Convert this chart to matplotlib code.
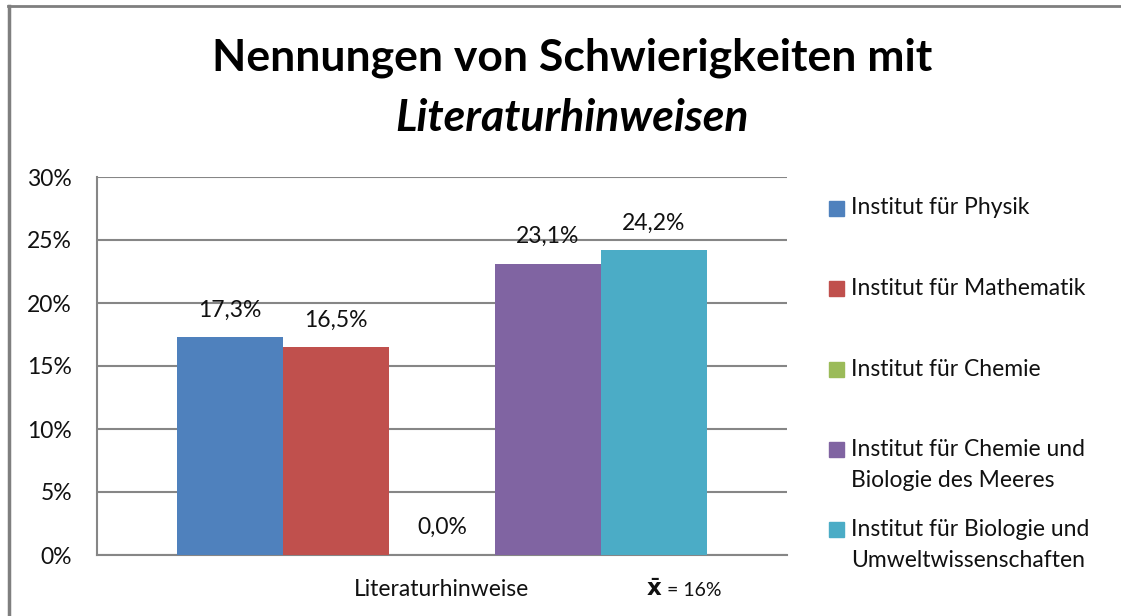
import matplotlib.pyplot as plt
from matplotlib.patches import Rectangle
from matplotlib.lines import Line2D

plt.rcParams['font.family'] = ['Lato', 'DejaVu Sans']

# Chart data
category = 'Literaturhinweise'
institutes = [
    'Institut für Physik',
    'Institut für Mathematik',
    'Institut für Chemie',
    'Institut für Chemie und\nBiologie des Meeres',
    'Institut für Biologie und\nUmweltwissenschaften',
]
values = [17.3, 16.5, 0.0, 23.1, 24.2]
colors = ['#4F81BD', '#C0504D', '#9BBB59', '#8064A2', '#4BACC6']
mean_label = '= 16%'
yticks = [0, 5, 10, 15, 20, 25, 30]

FS = 16.5
W, H = 1121, 616
fig = plt.figure(figsize=(W / 100, H / 100), dpi=100)

# plot area in pixels: x 97..787, y 177..555
ax = fig.add_axes([97 / W, 1 - 555 / H, (787 - 97) / W, (555 - 177) / H])

bar_w = 0.1536
for i, (v, c) in enumerate(zip(values, colors)):
    xpos = (i - 2) * bar_w
    ax.bar(xpos, v, width=bar_w, color=c, zorder=3)
    ax.annotate(f'{v:.1f}%'.replace('.', ','), (xpos, v), xytext=(0, 12),
                textcoords='offset points', ha='center', va='bottom',
                fontsize=FS, color='#111111')

ax.set_xlim(-0.5, 0.5)
ax.set_ylim(0, 30)
ax.set_yticks(yticks)
ax.set_yticklabels([f'{t}%' for t in yticks], fontsize=FS, color='#111111')
ax.tick_params(axis='y', length=0, pad=18)
ax.set_xticks([])
ax.yaxis.grid(True, color='#868686', linewidth=1.5, zorder=0)
for s in ['top', 'right']:
    ax.spines[s].set_visible(False)
for s in ['left', 'bottom']:
    ax.spines[s].set_color('#868686')
    ax.spines[s].set_linewidth(1.5)

# category label and mean
fig.text(442 / W, 1 - 590 / H, category, ha='center', va='center',
         fontsize=FS, color='#111111')
fig.text(654 / W, 1 - 589 / H, r'$\mathbf{\bar{x}}$', ha='center', va='center',
         fontsize=FS, color='#111111')
fig.text(667 / W, 1 - 591 / H, mean_label, ha='left', va='center',
         fontsize=14, color='#111111')

# title
fig.text(572 / W, 1 - 58 / H, 'Nennungen von Schwierigkeiten mit',
         ha='center', va='center', fontsize=32, fontweight='bold')
fig.text(572 / W, 1 - 118 / H, 'Literaturhinweisen', ha='center',
         va='center', fontsize=32, fontweight='bold', style='italic')

# legend drawn by hand
legend_y = [208, 289, 369, 465, 545]
for lab, c, ly in zip(institutes, colors, legend_y):
    n = lab.count('\n') + 1
    top = ly - (n - 1) * 16
    fig.patches.append(Rectangle((829 / W, 1 - (top + 7.5) / H), 15 / W, 15 / H,
                                 transform=fig.transFigure, color=c))
    fig.text(851 / W, 1 - ly / H, lab, ha='left', va='center', fontsize=FS,
             color='#111111', linespacing=1.6)

# chart frame (left and top edges)
fig.add_artist(Line2D([9 / W, 9 / W], [0, 1 - 6 / H], color='#7f7f7f',
                      linewidth=2.5, transform=fig.transFigure))
fig.add_artist(Line2D([8 / W, 1], [1 - 6 / H, 1 - 6 / H], color='#7f7f7f',
                      linewidth=2, transform=fig.transFigure))

fig.savefig('out.png', dpi=100)
